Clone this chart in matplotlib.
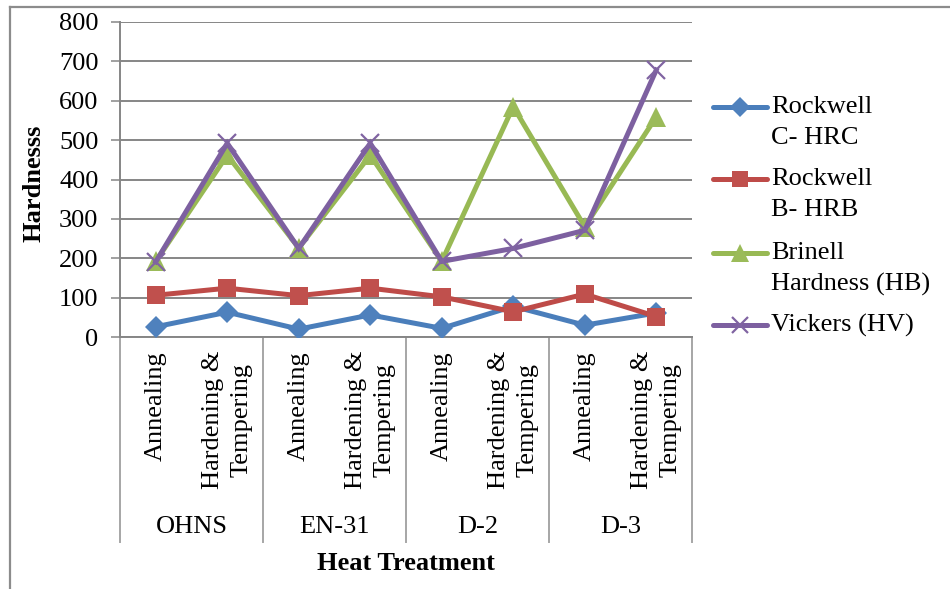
import numpy as np
import matplotlib.pyplot as plt
from matplotlib.lines import Line2D
import matplotlib.transforms as mtransforms

plt.rcParams['font.family'] = ['Liberation Serif', 'DejaVu Serif']

# hardness readings per steel / heat treatment
steels = ["OHNS", "EN-31", "D-2", "D-3"]
treatments = ["Annealing", "Hardening &\nTempering"]
hrc = [26, 63, 20, 56, 22, 78, 30, 61]
hrb = [106, 124, 105, 124, 102, 64, 109, 52]
hb = [192, 462, 226, 462, 192, 585, 280, 559]
hv = [191, 492, 225, 492, 192, 225, 271, 678]

series = [
    ("Rockwell\nC- HRC", hrc, "#4A7EBB", "#4F81BD", "D", 11),
    ("Rockwell\nB- HRB", hrb, "#BE4B48", "#C0504D", "s", 13),
    ("Brinell\nHardness (HB)", hb, "#98B954", "#9BBB59", "^", 14),
    ("Vickers (HV)", hv, "#7D60A0", "#8064A2", "x", 13),
]

W, H = 950, 589
FS = 19
fig = plt.figure(figsize=(9.5, 5.89), dpi=100)

def fx(px):
    return px / W

def fy(py):
    return 1 - py / H

# chart frame
fig.add_artist(Line2D([fx(10), fx(10)], [fy(7), 0], color="#8c8c8c", lw=1.6))
fig.add_artist(Line2D([fx(10), 1], [fy(7), fy(7)], color="#8c8c8c", lw=1.6))

ax = fig.add_axes([fx(120), fy(337), fx(692) - fx(120), fy(22) - fy(337)])
grid_c = "#868686"

x = np.arange(len(hrc))
for label, vals, lc, mc, mk, ms in series:
    mew = 1.6 if mk == "x" else 0
    ax.plot(x, vals, color=lc, lw=3.6, marker=mk, ms=ms, mfc=mc, mec=mc,
            mew=mew, solid_joinstyle="miter", zorder=3)

ax.set_xlim(-0.5, len(hrc) - 0.5)
ax.set_ylim(0, 800)
ax.set_yticks(np.arange(0, 801, 100))
ax.tick_params(axis="y", length=6.5, width=1.1, color=grid_c, pad=9, labelsize=FS)
ax.tick_params(axis="x", length=0, labelbottom=False)
ax.yaxis.grid(True, color=grid_c, lw=1.4)
ax.set_axisbelow(True)
for s in ["top", "right"]:
    ax.spines[s].set_visible(False)
for s in ["left", "bottom"]:
    ax.spines[s].set_color(grid_c)
    ax.spines[s].set_linewidth(1.4)

# two-level category axis
trans = mtransforms.blended_transform_factory(ax.transData, fig.transFigure)
for i in range(len(hrc)):
    ax.text(x[i], fy(351), treatments[i % 2], transform=trans, rotation=90,
            ha="center", va="top", multialignment="center", fontsize=FS,
            linespacing=1.35)
for g, name in enumerate(steels):
    ax.text(2 * g + 0.5, fy(527), name, transform=trans, ha="center",
            va="center", fontsize=FS)
for b in range(len(steels) + 1):
    ax.add_line(Line2D([2 * b - 0.5] * 2, [fy(337), fy(542)], transform=trans,
                       color="#a6a6a6", lw=1.4, clip_on=False))

fig.text(fx(406), fy(563), "Heat Treatment", ha="center", va="center",
         fontsize=FS, fontweight="bold")
fig.text(fx(34), fy(183), "Hardnesss", ha="center", va="center",
         rotation=90, fontsize=FS, fontweight="bold")

# legend
leg_y = [107, 179, 253, 325]
for (label, vals, lc, mc, mk, ms), yy in zip(series, leg_y):
    mew = 1.6 if mk == "x" else 0
    fig.add_artist(Line2D([fx(713), fx(767)], [fy(yy), fy(yy)], color=lc,
                          lw=3.6, solid_capstyle="round"))
    fig.add_artist(Line2D([fx(740)], [fy(yy)], marker=mk, ms=ms * 0.9,
                          mfc=mc, mec=mc, mew=mew, lw=0))
    fig.text(fx(771), fy(yy - 11), label, ha="left", va="top",
             fontsize=FS, linespacing=1.5)

fig.savefig("out.png", dpi=100)
